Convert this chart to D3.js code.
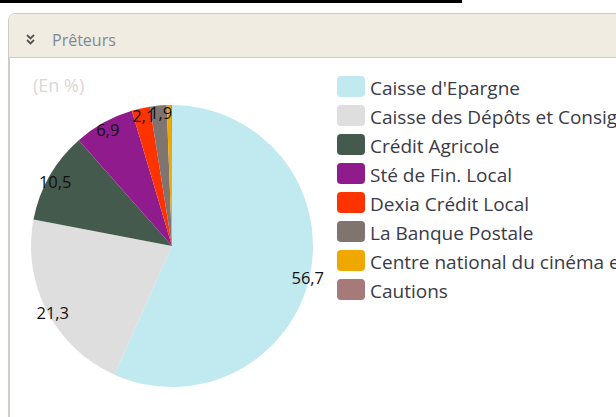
<!DOCTYPE html>
<html><head><meta charset="utf-8">
<script src="https://cdn.jsdelivr.net/npm/d3@7"></script>
<style>
html,body{margin:0;padding:0;background:#fff;width:616px;height:417px;overflow:hidden;}
svg{display:block;}
</style></head>
<body>
<script>
const categories = ["Caisse d'Epargne","Caisse des Dépôts et Consignations","Crédit Agricole","Sté de Fin. Local","Dexia Crédit Local","La Banque Postale","Centre national du cinéma et de l'image animée","Cautions"];
const values = [56.7, 21.3, 10.5, 6.9, 2.1, 1.9, 0.5, 0.1];
const colors = ["#c0e9f0","#dedede","#435a4c","#8f1b8c","#ff3300","#7f7470","#f0a800","#a77a7a"];
const labelMin = 1;

const W = 616, H = 417;
const svg = d3.select("body").append("svg").attr("width", W).attr("height", H);
const font = "'Open Sans', sans-serif";

// top black bar
svg.append("rect").attr("x",0).attr("y",0).attr("width",462).attr("height",3).attr("fill","#000");

// panel
svg.append("path")
  .attr("d","M8.5,"+(H+5)+" L8.5,21 Q8.5,13.5 16,13.5 L"+(W+5)+",13.5")
  .attr("fill","#fff").attr("stroke","#cfcbc4");
svg.append("path")
  .attr("d","M9,57 L9,21 Q9,14 16,14 L"+(W+5)+",14 L"+(W+5)+",57 Z")
  .attr("fill","#f1ece1");
svg.append("line").attr("x1",9).attr("x2",W+5).attr("y1",57.5).attr("y2",57.5).attr("stroke","#d2cdc4");
svg.append("line").attr("x1",9.5).attr("x2",9.5).attr("y1",58).attr("y2",H).attr("stroke","#cfcfcf");

// header icon (double chevron)
const ic = svg.append("g").attr("fill","none").attr("stroke","#555").attr("stroke-width",1.8);
ic.append("path").attr("d","M27,35 L30.5,38.5 L34,35");
ic.append("path").attr("d","M27,40 L30.5,43.5 L34,40");
svg.append("text").attr("x",52).attr("y",46).attr("font-family",font).attr("font-size",16)
  .attr("fill","#7b8a99").text("Prêteurs");

// subtitle
svg.append("text").attr("x",33).attr("y",92).attr("font-family",font).attr("font-size",18)
  .attr("fill","#ddd5d5").text("(En %)");

// pie
const cx = 172, cy = 246, r = 141;
const data = categories.map((c,i)=>({name:c, value:values[i], color:colors[i]}));
const pie = d3.pie().value(d=>d.value).sort(null);
const arcs = pie(data);
const arc = d3.arc().innerRadius(0).outerRadius(r);
const g = svg.append("g").attr("transform",`translate(${cx},${cy})`);
g.selectAll("path").data(arcs).join("path").attr("d",arc).attr("fill",d=>d.data.color);

const labelArc = d3.arc().innerRadius(r*0.97).outerRadius(r*0.97);
g.selectAll("text.lbl").data(arcs.filter(d=>d.data.value>=labelMin)).join("text")
  .attr("class","lbl")
  .attr("transform",d=>{const c=labelArc.centroid(d);return `translate(${c[0]+2},${c[1]+3})`;})
  .attr("text-anchor","middle").attr("dy","0.4em")
  .attr("font-family",font).attr("font-size",16.5).attr("fill","#111")
  .text(d=>d3.format(".1f")(d.data.value).replace(".",","));

// legend
const lg = svg.append("g");
const rowH = 29, ly0 = 76;
const rows = lg.selectAll("g").data(data).join("g")
  .attr("transform",(d,i)=>`translate(337,${ly0 + i*rowH})`);
rows.append("rect").attr("width",28).attr("height",21).attr("rx",4).attr("fill",d=>d.color);
rows.append("text").attr("x",33).attr("y",19).attr("font-family",font).attr("font-size",19)
  .attr("fill","#3a3a48").text(d=>d.name);
</script>
</body></html>
